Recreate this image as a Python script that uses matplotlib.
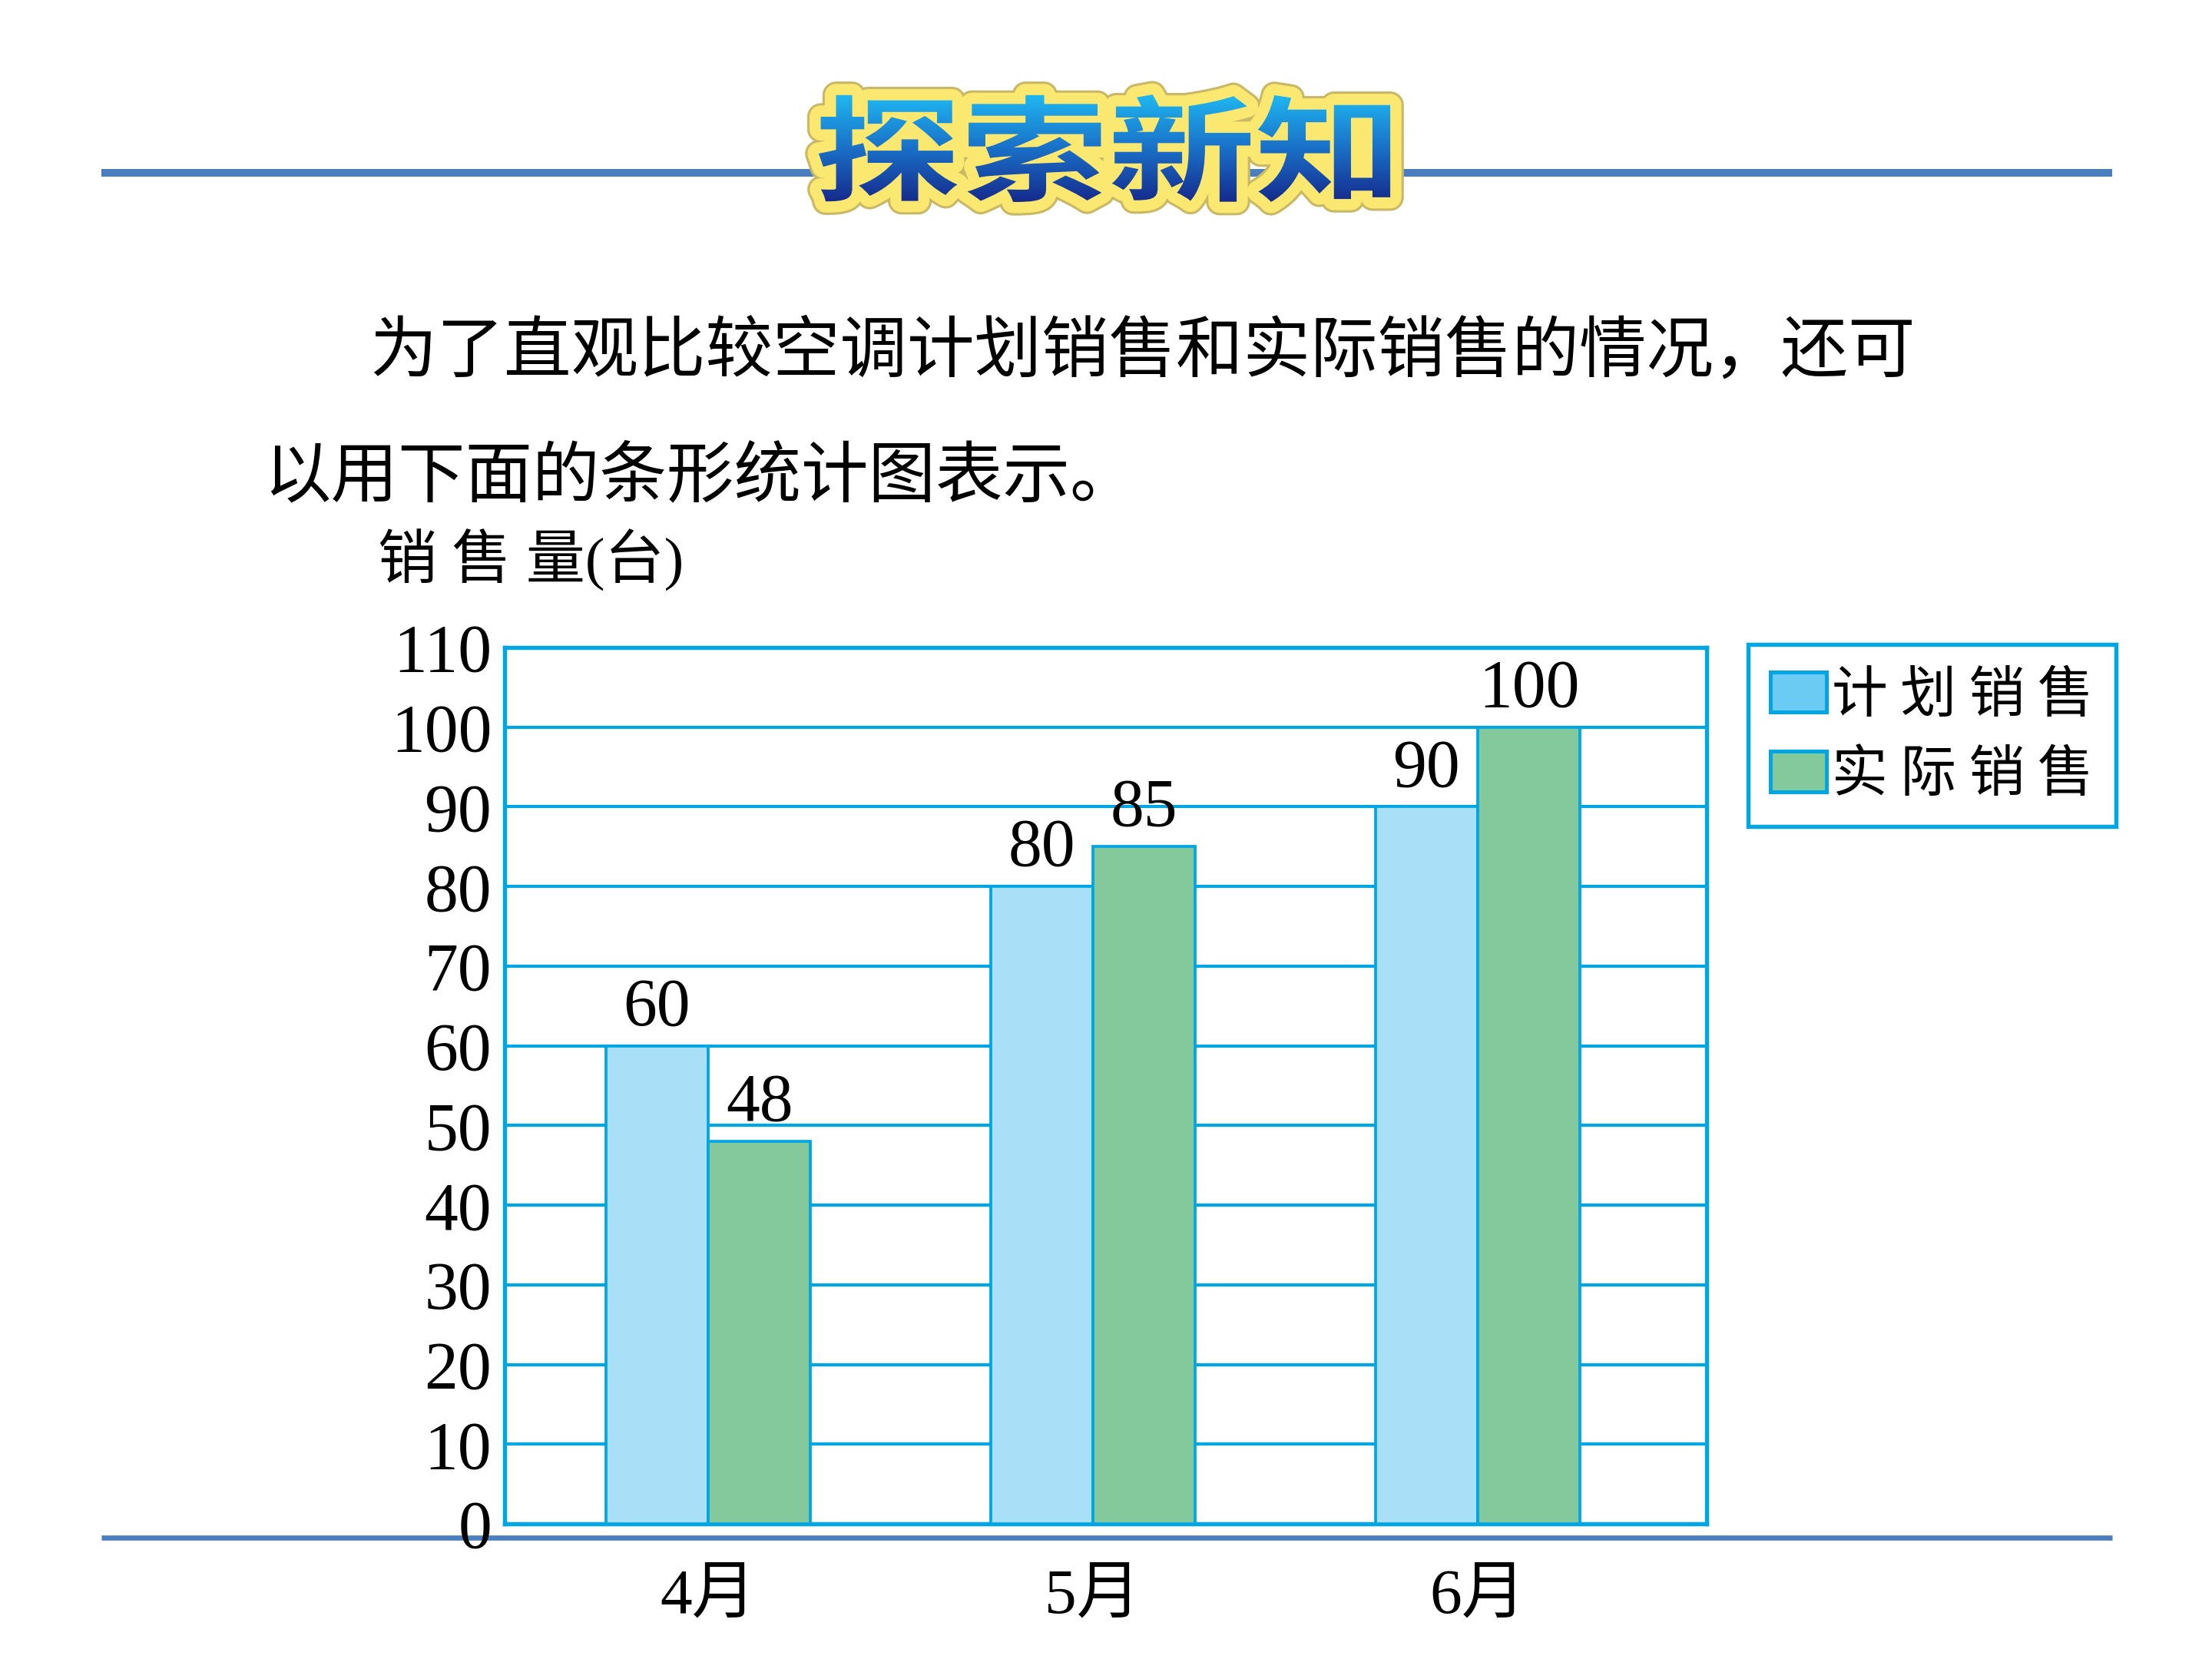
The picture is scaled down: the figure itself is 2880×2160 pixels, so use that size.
import numpy as np
import matplotlib
matplotlib.use("Agg")
import matplotlib.pyplot as plt
import matplotlib.patheffects as pe
from matplotlib.patches import Patch, PathPatch
from matplotlib.textpath import TextPath
from matplotlib.font_manager import FontProperties
from matplotlib.transforms import Affine2D
from matplotlib.colors import LinearSegmentedColormap

# data
months = ["4月", "5月", "6月"]
planned = [60, 80, 90]
actual = [48, 85, 100]
series_names = ["计划销售", "实际销售"]
y_ticks = list(range(0, 111, 10))

title_text = "探索新知"
intro_lines = ["为了直观比较空调计划销售和实际销售的情况，还可",
               "以用下面的条形统计图表示。"]
y_label = "销 售 量(台)"

CYAN = "#00a6e4"
LIGHT_BLUE = "#aadff8"
LEGEND_BLUE = "#6ccbf3"
GREEN = "#84c99b"
RULE = "#4a7ebf"

plt.rcParams['font.family'] = ['Liberation Serif', 'Noto Sans CJK SC', 'DejaVu Sans']
CJK = ['Noto Sans CJK SC', 'DejaVu Sans']

W, H = 2880, 2160
fig = plt.figure(figsize=(9.6, 7.2), dpi=300)

# background layer in pixel coords (y going up)
bg = fig.add_axes([0, 0, 1, 1], zorder=0)
bg.axis("off")
bg.plot([132, 2750], [H - 225, H - 225], color=RULE, lw=2.4, solid_capstyle='butt')
bg.plot([132, 2750], [H - 2002, H - 2002], color=RULE, lw=1.6, solid_capstyle='butt')

# title with yellow outline and blue gradient fill
fp = FontProperties(family='Noto Sans CJK SC', weight='bold')
tp = TextPath((0, 0), title_text, size=165, prop=fp)
ext = tp.get_extents()
tr = (Affine2D().translate(-(ext.x0 + ext.x1) / 2, -(ext.y0 + ext.y1) / 2)
      .scale(1.16, 0.9).translate(1438, H - 193))
tpath = tr.transform_path(tp)
outline = PathPatch(tpath, facecolor='#fbe870', edgecolor='#fbe870', lw=7,
                    joinstyle='round', capstyle='round', zorder=3)
outline.set_path_effects([pe.Stroke(linewidth=8.5, foreground='#c9b866',
                                    joinstyle='round', capstyle='round'), pe.Normal()])
bg.add_patch(outline)
e = tpath.get_extents()
grad = np.linspace(0, 1, 256).reshape(-1, 1)
cmap = LinearSegmentedColormap.from_list('title', ['#1fb8f2', '#1a70c8', '#152a8c'])
im = bg.imshow(grad, cmap=cmap, extent=[e.x0, e.x1, e.y0, e.y1], origin='upper',
               aspect='auto', zorder=4)
im.set_clip_path(tpath, transform=bg.transData)
bg.set_xlim(0, W)
bg.set_ylim(0, H)

# intro text
fig.text(481 / W, 1 - 459 / H, intro_lines[0], fontsize=21, family=CJK, va='center', ha='left')
fig.text(343 / W, 1 - 621 / H, intro_lines[1], fontsize=21, family=CJK, va='center', ha='left')
fig.text(492 / W, 1 - 729 / H, y_label, fontsize=18.5, va='center', ha='left')

# main chart
ax = fig.add_axes([657 / W, 1 - 1984 / H, (2222 - 657) / W, (1984 - 843) / H], zorder=1)
x = np.arange(len(months))
w = 0.266
b1 = ax.bar(x - w / 2, planned, w, color=LIGHT_BLUE, edgecolor=CYAN, lw=0.9, zorder=3)
b2 = ax.bar(x + w / 2, actual, w, color=GREEN, edgecolor=CYAN, lw=0.9, zorder=3)
ax.bar_label(b1, padding=2, fontsize=21)
ax.bar_label(b2, padding=2, fontsize=21)

ax.set_xlim(-0.529, 2.595)
ax.set_ylim(0, 110)
ax.set_yticks(y_ticks)
ax.set_xticks(x)
ax.set_xticklabels(months)
ax.grid(axis='y', color=CYAN, lw=1.0)
ax.set_axisbelow(True)
for s in ax.spines.values():
    s.set_color(CYAN)
    s.set_linewidth(1.3)
ax.tick_params(axis='y', length=0, labelsize=21, pad=4)
ax.tick_params(axis='x', length=0, labelsize=20, pad=14)

handles = [Patch(facecolor=LEGEND_BLUE, edgecolor=CYAN, lw=1.2),
           Patch(facecolor=GREEN, edgecolor=CYAN, lw=1.2)]
leg = fig.legend(handles, [" ".join(n) for n in series_names], loc='upper left',
                 bbox_to_anchor=(2276 / W, 1 - 839 / H),
                 prop=FontProperties(family=CJK, size=17.5),
                 frameon=True, fancybox=False, edgecolor=CYAN, framealpha=1,
                 borderpad=0.4, handlelength=1.0, handleheight=0.73,
                 handletextpad=0.1, labelspacing=0.38, borderaxespad=0)
leg.get_frame().set_linewidth(1.3)

fig.savefig("out.png", dpi=300)
